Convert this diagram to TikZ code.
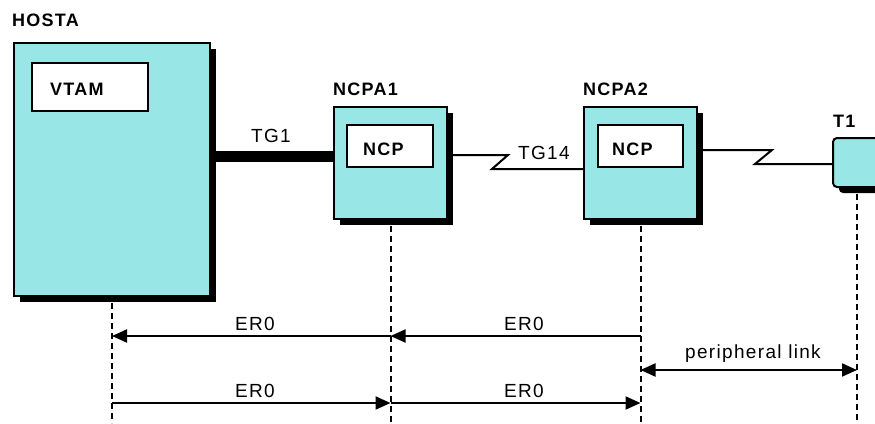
\documentclass[tikz,border=0pt]{standalone}
\usepackage{fontspec}
\setmainfont{Liberation Sans}[LetterSpace=7]
\usetikzlibrary{arrows.meta,shadows}
\definecolor{boxcyan}{RGB}{153,230,230}
\tikzset{
  x=1pt,y=-1pt,
  unit/.style={draw=black,line width=2pt,fill=boxcyan,inner sep=0pt,
    drop shadow={shadow xshift=6pt,shadow yshift=-6pt,fill=black,opacity=1}},
  inner/.style={draw=black,line width=2pt,fill=white,inner sep=0pt},
  blabel/.style={font=\fontsize{18}{18}\selectfont\bfseries,anchor=base west,inner sep=0pt},
  rlabel/.style={font=\fontsize{19}{19}\selectfont,anchor=base west,inner sep=0pt},
  clabel/.style={font=\fontsize{19}{19}\selectfont,anchor=base,inner sep=0pt},
  link/.style={line width=2pt},
  life/.style={line width=2pt,dash pattern=on 6pt off 4pt},
  er/.style={line width=2pt,-{Triangle[length=15pt,width=13pt]}},
  erboth/.style={line width=2pt,{Triangle[length=15pt,width=13pt]}-{Triangle[length=15pt,width=13pt]}}
}
\begin{document}
\begin{tikzpicture}
\useasboundingbox (0,0) rectangle (875,423);
% units
\node[unit,minimum width=196pt,minimum height=253pt] (HOSTA) at (112,169.5) {};
\node[unit,minimum width=113pt,minimum height=112pt] (NCPA1) at (390.5,163) {};
\node[unit,minimum width=113pt,minimum height=112pt] (NCPA2) at (640.5,163) {};
\node[unit,rounded corners=4pt,minimum width=48pt,minimum height=49pt] (T1) at (857,162.5) {};
% inner boxes
\node[inner,minimum width=116pt,minimum height=48pt] (VTAM) at (90,87) {};
\node[inner,minimum width=86pt,minimum height=42pt] (NCP1) at (390,146) {};
\node[inner,minimum width=85pt,minimum height=42pt] (NCP2) at (640.5,146) {};
% labels
\node[blabel] (lHOSTA) at (12,27) {HOSTA};
\node[blabel] (lVTAM) at (50,95) {VTAM};
\node[blabel] (lNCPA1) at (333,95) {NCPA1};
\node[blabel] (lNCP1) at (363,155) {NCP};
\node[blabel] (lNCPA2) at (583,95) {NCPA2};
\node[blabel] (lNCP2) at (612,155) {NCP};
\node[blabel] (lT1) at (833,127) {T1};
\node[rlabel] (lTG1) at (251,142) {TG1};
\node[rlabel] (lTG14) at (518,159) {TG14};
% links
\coordinate (tg1) at (0,156.5);
\draw[line width=11pt] (HOSTA.east |- tg1) -- (NCPA1.west |- tg1);
\coordinate (za) at (508,155);
\coordinate (zb) at (492,169);
\draw[link] (NCPA1.east |- za) -- (za) -- (zb) -- (NCPA2.west |- zb);
\coordinate (zc) at (772,150);
\coordinate (zd) at (755,164);
\draw[link] (NCPA2.east |- zc) -- (zc) -- (zd) -- (T1.west |- zd);
% lifelines
\coordinate (bot) at (0,423);
\draw[life] ([yshift=-6pt]HOSTA.south) -- (HOSTA |- bot);
\draw[life] ([yshift=-6pt]NCPA1.south) -- (NCPA1 |- bot);
\draw[life] ([yshift=-6pt]NCPA2.south) -- (NCPA2 |- bot);
\draw[life] ([yshift=-6pt]T1.south) -- (T1 |- bot);
% end-to-end routes
\coordinate (r1) at (0,336);
\coordinate (r2) at (0,370);
\coordinate (r3) at (0,403);
\draw[er] (NCPA2 |- r1) -- (NCPA1 |- r1);
\draw[er] (NCPA1 |- r1) -- (HOSTA |- r1);
\draw[erboth] (NCPA2 |- r2) -- (T1 |- r2);
\draw[er] (HOSTA |- r3) -- (NCPA1 |- r3);
\draw[er] (NCPA1 |- r3) -- (NCPA2 |- r3);
\node[clabel] (e1) at (255,330) {ER0};
\node[clabel] (e2) at (524,330) {ER0};
\node[clabel] (pl) at (753,358) {peripheral link};
\node[clabel] (e3) at (255,397) {ER0};
\node[clabel] (e4) at (524,397) {ER0};
\end{tikzpicture}
\end{document}
